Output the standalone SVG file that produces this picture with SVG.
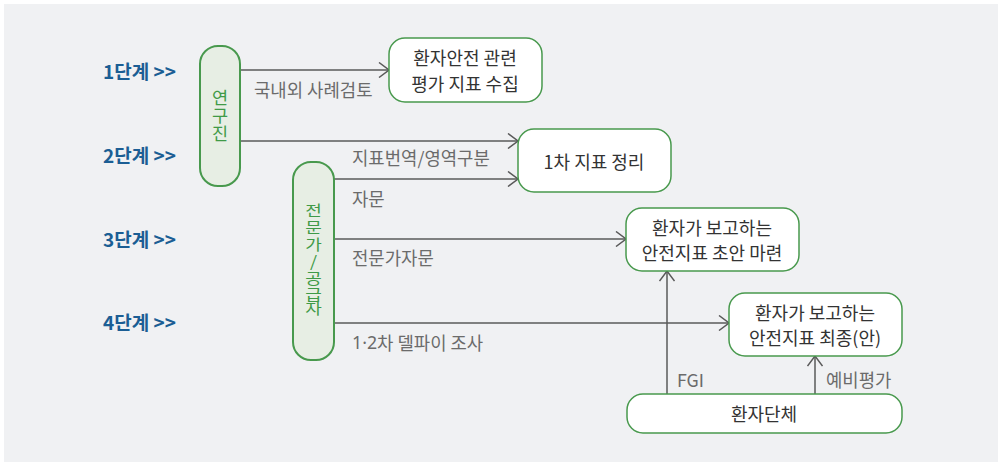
<svg xmlns="http://www.w3.org/2000/svg" width="998" height="462" viewBox="0 0 998 462">
<style>
.bg{fill:#f0f1f3}
.stage{font-family:"Noto Sans CJK KR","Noto Sans",sans-serif;font-size:19px;font-weight:bold;fill:#1b5e94}
.pill{fill:#e7eee4;stroke:#48994d;stroke-width:2}
.box{fill:#ffffff;stroke:#48994d;stroke-width:1.5}
.vt{font-family:"Noto Sans CJK KR","Noto Sans",sans-serif;fill:#3f9a47;text-anchor:middle;dominant-baseline:central}
.nt{font-family:"Noto Sans CJK KR","Noto Sans",sans-serif;font-size:18px;fill:#333333;text-anchor:middle;dominant-baseline:central}
.lb{font-family:"Noto Sans CJK KR","Noto Sans",sans-serif;font-size:17.8px;fill:#6b6b6b;dominant-baseline:central}
.lat{font-family:"Noto Sans",sans-serif}
.ln{stroke:#5a5a5a;stroke-width:1.5;fill:none}
</style>
<defs>
<marker id="arr" viewBox="0 0 12 16" refX="11" refY="8" markerWidth="12" markerHeight="16" markerUnits="userSpaceOnUse" orient="auto">
<path d="M1,0.5 L11,8 L1,15.5" fill="none" stroke="#5a5a5a" stroke-width="1.5"/>
</marker>
</defs>
<rect class="bg" x="4" y="4" width="994" height="458"/>
<g id="stages">
<text class="stage" x="103" y="79">1단계 &gt;&gt;</text>
<text class="stage" x="103" y="163">2단계 &gt;&gt;</text>
<text class="stage" x="103" y="247">3단계 &gt;&gt;</text>
<text class="stage" x="103" y="330">4단계 &gt;&gt;</text>
</g>
<g id="connectors">
<line class="ln" x1="240" y1="70" x2="389" y2="70" marker-end="url(#arr)"/>
<text class="lb" x="254" y="89">국내외 사례검토</text>
<line class="ln" x1="240" y1="141" x2="518" y2="141" marker-end="url(#arr)"/>
<text class="lb" x="352" y="157">지표번역/영역구분</text>
<line class="ln" x1="334" y1="179" x2="518" y2="179" marker-end="url(#arr)"/>
<text class="lb" x="352" y="198">자문</text>
<line class="ln" x1="334" y1="239" x2="626" y2="239" marker-end="url(#arr)"/>
<text class="lb" x="352" y="257">전문가자문</text>
<line class="ln" x1="334" y1="323" x2="729" y2="323" marker-end="url(#arr)"/>
<text class="lb" x="352" y="342"><tspan class="lat">1·2</tspan>차 델파이 조사</text>
<line class="ln" x1="667" y1="394" x2="667" y2="271" marker-end="url(#arr)"/>
<text class="lb" x="677" y="379">FGI</text>
<line class="ln" x1="815" y1="394" x2="815" y2="356" marker-end="url(#arr)"/>
<text class="lb" x="826" y="379">예비평가</text>
</g>
<g id="research">
<rect class="pill" x="200" y="46" width="40" height="140" rx="18"/>
<text class="vt" font-size="17.5"><tspan x="220" y="96">연</tspan><tspan x="220" y="114">구</tspan><tspan x="220" y="132">진</tspan></text>
</g>
<g id="expert">
<rect class="pill" x="293" y="162" width="41" height="198" rx="18"/>
<text class="vt" font-size="18" transform="translate(0,259) scale(1,0.85) translate(0,-259)"><tspan x="313.5" y="201.4">전</tspan><tspan x="313.5" y="220.8">문</tspan><tspan x="313.5" y="240.8">가</tspan><tspan x="313.5" y="261.2">/</tspan><tspan x="313.5" y="280.8">공</tspan><tspan x="313.5" y="299.6">급</tspan><tspan x="313.5" y="316.6">자</tspan></text>
</g>
<g id="collect">
<rect class="box" x="389" y="38" width="153" height="64" rx="16"/>
<text class="nt" x="465" y="57">환자안전 관련</text>
<text class="nt" x="465" y="83">평가 지표 수집</text>
</g>
<g id="organize">
<rect class="box" x="518" y="129" width="153" height="63" rx="16"/>
<text class="nt" x="594" y="161">1차 지표 정리</text>
</g>
<g id="draft">
<rect class="box" x="626" y="208" width="173" height="63" rx="16"/>
<text class="nt" x="712" y="227">환자가 보고하는</text>
<text class="nt" x="712" y="252">안전지표 초안 마련</text>
</g>
<g id="final">
<rect class="box" x="729" y="293" width="173" height="63" rx="16"/>
<text class="nt" x="815" y="312">환자가 보고하는</text>
<text class="nt" x="815" y="337">안전지표 최종(안)</text>
</g>
<g id="patients">
<rect class="box" x="627" y="394" width="275" height="39" rx="16"/>
<text class="nt" x="764" y="413">환자단체</text>
</g>
</svg>
